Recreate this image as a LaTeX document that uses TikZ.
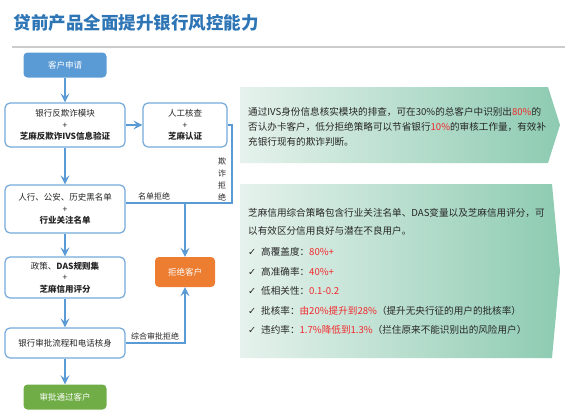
\documentclass[tikz,border=0pt]{standalone}
\usepackage{fontspec}
\setmainfont{Noto Sans CJK SC}
\newfontfamily\symfont{DejaVu Sans}
\usepackage{xcolor}
\usepackage{tikz}
\usetikzlibrary{arrows.meta, positioning, calc}

\definecolor{titleblue}{HTML}{2E75B6}
\definecolor{flowblue}{HTML}{5B9BD5}
\definecolor{rejorange}{HTML}{ED7D31}
\definecolor{passgreen}{HTML}{70AD47}
\definecolor{hotred}{HTML}{F2282C}
\definecolor{panelleft}{HTML}{E6F2ED}
\definecolor{panelright}{HTML}{8DCBB1}
\definecolor{bodytext}{HTML}{262626}

\newcommand{\hot}[1]{\textcolor{hotred}{#1}}
\newcommand{\tick}{{\symfont ✓}\hspace{5pt}}

\tikzset{
  stepbox/.style={draw=flowblue!85, line width=1.2pt, rounded corners=5pt, fill=white,
    minimum width=120pt, align=center, text=bodytext, font=\fontsize{8.5}{11.5}\selectfont},
  endbox/.style={rounded corners=4pt, minimum width=83pt, minimum height=25pt,
    text=white, font=\fontsize{8.5}{10}\selectfont},
  flow/.style={draw=flowblue, line width=2.2pt, -{Stealth[length=9pt,width=9pt,inset=3.5pt]}},
  flowline/.style={draw=flowblue, line width=2.2pt},
  edgelabel/.style={text=bodytext, font=\fontsize{8}{12}\selectfont, inner sep=1pt},
  paneltext/.style={text=bodytext, align=left, inner sep=0pt},
}

\begin{document}
\begin{tikzpicture}[x=1pt, y=-1pt]
        \useasboundingbox (0,0) rectangle (569,418);

        % title
        \node[anchor=west, text=titleblue, font=\bfseries\fontsize{17.5}{20}\selectfont] (title) at (10,23) {贷前产品全面提升银行风控能力};
        \draw[black!20, line width=1.5pt] (12,47) -- (565,47);

        % flow
        \node[endbox, fill=flowblue] (apply) at (65,65) {客户申请};
        \node[stepbox, minimum height=44pt] (antifraud) at (65,125) {银行反欺诈模块\\+\\\textbf{芝麻反欺诈IVS信息验证}};
        \node[stepbox, minimum width=84pt, minimum height=44pt] (manual) at (185,125) {人工核查\\+\\\textbf{芝麻认证}};
        \node[stepbox, minimum height=48pt] (blacklist) at (65,209) {人行、公安、历史黑名单\\+\\\textbf{行业关注名单}};
        \node[stepbox, minimum height=41pt] (rules) at (65,277.5) {政策、\textbf{DAS规则集}\\+\\\textbf{芝麻信用评分}};
        \node[stepbox, minimum height=30pt] (approve) at (65,343) {银行审批流程和电话核身};
        \node[endbox, fill=passgreen] (pass) at (65,397) {审批通过客户};
        \node[endbox, fill=rejorange, minimum width=60pt, minimum height=30pt] (reject) at (185,272) {拒绝客户};

        \coordinate (fraudcorner) at (232,203);
        \coordinate (listjoin) at (185,203);

        \draw[flow] (apply) -- (antifraud);
        \draw[flow] (antifraud) -- (manual);
        \draw[flow] (antifraud) -- (blacklist);
        \draw[flow] (blacklist) -- (rules);
        \draw[flow] (rules) -- (approve);
        \draw[flow] (approve) -- (pass);
        \draw[flowline] (manual.east) -| (fraudcorner) -- (listjoin);
        \draw[flowline] (blacklist.east |- listjoin) -- (listjoin);
        \draw[flow] (listjoin) -- (reject);
        \draw[flow] (approve.east) -| (reject);

        \node[edgelabel] (listlbl) at (154,196) {名单拒绝};
        \node[edgelabel, align=center] (fraudlbl) at (222,179) {欺\\诈\\拒\\绝};
        \node[edgelabel] (finallbl) at (155,336) {综合审批拒绝};

        % notes
        \shade[left color=panelleft, right color=panelright] (240,87) -- (548,87) -- (560,125) -- (548,163) -- (240,163) -- cycle;
        \shade[left color=panelleft, right color=panelright] (240,184) -- (552,184) -- (560,271) -- (552,358) -- (240,358) -- cycle;

        \node[paneltext, anchor=west, font=\fontsize{9.6}{15}\selectfont] (ivsnote) at (248,127) {通过IVS身份信息核实模块的排查，可在30\%的总客户中识别出\hot{80\%}的\\
        否认办卡客户，低分拒绝策略可以节省银行\hot{10\%}的审核工作量，有效补\\
        充银行现有的欺诈判断。};
        \node[paneltext, anchor=west, font=\fontsize{9.6}{18}\selectfont] (zmnote) at (248,222) {芝麻信用综合策略包含行业关注名单、DAS变量以及芝麻信用评分，可\\
        以有效区分信用良好与潜在不良用户。};
        \node[paneltext, anchor=west, font=\fontsize{9.6}{19.5}\selectfont] (zmlist) at (248,291) {\tick 高覆盖度：\hot{80\%+}\\
        \tick 高准确率：\hot{40\%+}\\
        \tick 低相关性：\hot{0.1-0.2}\\
        \tick 批核率：\hot{由20\%提升到28\%}（提升无央行征的用户的批核率）\\
        \tick 违约率：\hot{1.7\%降低到1.3\%}（拦住原来不能识别出的风险用户）};
    \end{tikzpicture}
\end{document}
